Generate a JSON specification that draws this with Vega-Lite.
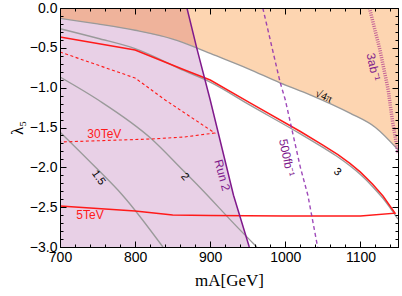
{
  "$schema": "https://vega.github.io/schema/vega-lite/v6.json",
  "width": 338,
  "height": 239,
  "autosize": "none",
  "padding": {"left": 60, "top": 8, "right": 4, "bottom": 49},
  "background": "white",
  "config": {
    "view": {"stroke": "black", "strokeWidth": 1},
    "axis": {"grid": false, "ticks": true, "domainColor": "black", "tickColor": "black", "tickWidth": 1, "labelColor": "black", "titleColor": "black", "labelFont": "Liberation Sans", "labelFontSize": 14, "titleFontWeight": "normal", "labelOverlap": false, "labelFlush": false}
  },
  "datasets": {
    "gray": [
      {"level": "s", "x": 700, "y": -0.13}, {"level": "s", "x": 750, "y": -0.2}, {"level": "s", "x": 800, "y": -0.28}, {"level": "s", "x": 850, "y": -0.39}, {"level": "s", "x": 882, "y": -0.5}, {"level": "s", "x": 900, "y": -0.57}, {"level": "s", "x": 950, "y": -0.76}, {"level": "s", "x": 993, "y": -0.94}, {"level": "s", "x": 1033, "y": -1.09}, {"level": "s", "x": 1086, "y": -1.32}, {"level": "s", "x": 1120, "y": -1.5}, {"level": "s", "x": 1150, "y": -1.78},
      {"level": "3", "x": 700, "y": -0.26}, {"level": "3", "x": 750, "y": -0.38}, {"level": "3", "x": 800, "y": -0.51}, {"level": "3", "x": 866, "y": -0.79}, {"level": "3", "x": 900, "y": -0.93}, {"level": "3", "x": 953, "y": -1.22}, {"level": "3", "x": 1020, "y": -1.58}, {"level": "3", "x": 1050, "y": -1.75}, {"level": "3", "x": 1070, "y": -1.87}, {"level": "3", "x": 1086, "y": -1.98}, {"level": "3", "x": 1100, "y": -2.09}, {"level": "3", "x": 1116, "y": -2.24}, {"level": "3", "x": 1130, "y": -2.39}, {"level": "3", "x": 1150, "y": -2.65},
      {"level": "2", "x": 700, "y": -0.866}, {"level": "2", "x": 751, "y": -1.155}, {"level": "2", "x": 822, "y": -1.644}, {"level": "2", "x": 864, "y": -2.04}, {"level": "2", "x": 886, "y": -2.25}, {"level": "2", "x": 937, "y": -2.76}, {"level": "2", "x": 962, "y": -3.0},
      {"level": "1.5", "x": 700, "y": -1.556}, {"level": "1.5", "x": 747, "y": -1.996}, {"level": "1.5", "x": 783, "y": -2.347}, {"level": "1.5", "x": 837, "y": -3.0}
    ],
    "orange": [
      {"x": 700, "y": -0.13}, {"x": 750, "y": -0.2}, {"x": 800, "y": -0.28}, {"x": 850, "y": -0.39}, {"x": 882, "y": -0.5}, {"x": 900, "y": -0.57}, {"x": 950, "y": -0.76}, {"x": 993, "y": -0.94}, {"x": 1033, "y": -1.09}, {"x": 1086, "y": -1.32}, {"x": 1120, "y": -1.5}, {"x": 1150, "y": -1.78}
    ],
    "purple": [
      {"x": 700, "y": 0}, {"x": 869, "y": 0}, {"x": 882, "y": -0.5}, {"x": 900, "y": -1.155}, {"x": 931, "y": -2.35}, {"x": 952, "y": -3.0}
    ],
    "salmon": [
      {"x": 700, "y": -0.13, "top": 0}, {"x": 750, "y": -0.2, "top": 0}, {"x": 800, "y": -0.28, "top": 0}, {"x": 850, "y": -0.39, "top": 0}, {"x": 869, "y": -0.45, "top": 0}, {"x": 882, "y": -0.5, "top": -0.5}
    ],
    "tev5": [
      {"i": 0, "x": 700, "y": -0.364}, {"i": 1, "x": 800, "y": -0.527}, {"i": 2, "x": 866, "y": -0.778}, {"i": 3, "x": 900, "y": -0.904}, {"i": 4, "x": 953, "y": -1.19}, {"i": 5, "x": 1020, "y": -1.55}, {"i": 6, "x": 1050, "y": -1.72}, {"i": 7, "x": 1070, "y": -1.84}, {"i": 8, "x": 1086, "y": -1.95}, {"i": 9, "x": 1100, "y": -2.06}, {"i": 10, "x": 1116, "y": -2.21}, {"i": 11, "x": 1130, "y": -2.36}, {"i": 12, "x": 1146, "y": -2.575}, {"i": 13, "x": 1100, "y": -2.61}, {"i": 14, "x": 1000, "y": -2.612}, {"i": 15, "x": 900, "y": -2.605}, {"i": 16, "x": 850, "y": -2.598}, {"i": 17, "x": 800, "y": -2.548}, {"i": 18, "x": 700, "y": -2.485}
    ],
    "tev30": [
      {"i": 0, "x": 700, "y": -0.552}, {"i": 1, "x": 800, "y": -0.879}, {"i": 2, "x": 840, "y": -1.155}, {"i": 3, "x": 864, "y": -1.305}, {"i": 4, "x": 906, "y": -1.569}, {"i": 5, "x": 866, "y": -1.619}, {"i": 6, "x": 822, "y": -1.644}, {"i": 7, "x": 700, "y": -1.682}
    ],
    "run2": [
      {"x": 869, "y": 0}, {"x": 882, "y": -0.5}, {"x": 900, "y": -1.155}, {"x": 931, "y": -2.35}, {"x": 952, "y": -3.0}
    ],
    "fb500": [
      {"x": 970, "y": 0}, {"x": 993, "y": -0.93}, {"x": 1000, "y": -1.155}, {"x": 1020, "y": -2.0}, {"x": 1030, "y": -2.35}, {"x": 1043, "y": -3.0}
    ],
    "ab3": [
      {"x": 1112, "y": 0}, {"x": 1126, "y": -0.527}, {"x": 1137, "y": -1.03}, {"x": 1143, "y": -1.44}, {"x": 1150, "y": -1.82}
    ]
  },
  "layer": [
    {
      "data": {"name": "orange"},
      "mark": {"type": "area", "color": "#FDD5B1", "opacity": 1, "interpolate": "monotone", "clip": true},
      "encoding": {
        "x": {"field": "x", "type": "quantitative", "scale": {"domain": [700, 1150], "nice": false, "zero": false},
          "axis": {"orient": "bottom", "zindex": 2, "values": [700, 720, 740, 760, 780, 800, 820, 840, 860, 880, 900, 920, 940, 960, 980, 1000, 1020, 1040, 1060, 1080, 1100, 1120, 1140],
            "format": "d", "labelExpr": "datum.value % 100 === 0 ? datum.label : ''",
            "tickSize": {"condition": {"test": "datum.value % 100 === 0", "value": -6}, "value": -3},
            "labelPadding": 9, "title": "mA[GeV]", "titleFont": "Liberation Serif", "titleFontSize": 17, "titlePadding": 5}},
        "y": {"field": "y", "type": "quantitative", "scale": {"domain": [-3, 0], "nice": false, "zero": false},
          "axis": {"orient": "left", "zindex": 2, "values": [0, -0.1, -0.2, -0.3, -0.4, -0.5, -0.6, -0.7, -0.8, -0.9, -1.0, -1.1, -1.2, -1.3, -1.4, -1.5, -1.6, -1.7, -1.8, -1.9, -2.0, -2.1, -2.2, -2.3, -2.4, -2.5, -2.6, -2.7, -2.8, -2.9, -3.0],
            "format": ".1f", "labelExpr": "abs(round(datum.value * 10)) % 5 === 0 ? datum.label : ''",
            "tickSize": {"condition": {"test": "abs(round(datum.value * 10)) % 5 === 0", "value": -6}, "value": -3},
            "labelPadding": 9, "title": "λ₅", "titleFont": "Liberation Serif", "titleFontSize": 17, "titlePadding": 3}},
        "y2": {"datum": 0}
      }
    },
    {
      "data": {"name": "purple"},
      "mark": {"type": "area", "color": "#E8D0E6", "opacity": 1, "clip": true},
      "encoding": {
        "x": {"field": "x", "type": "quantitative",
          "axis": {"orient": "top", "zindex": 2, "values": [700, 720, 740, 760, 780, 800, 820, 840, 860, 880, 900, 920, 940, 960, 980, 1000, 1020, 1040, 1060, 1080, 1100, 1120, 1140],
            "labels": false, "title": null,
            "tickSize": {"condition": {"test": "datum.value % 100 === 0", "value": -6}, "value": -3}}},
        "y": {"field": "y", "type": "quantitative",
          "axis": {"orient": "right", "zindex": 2, "values": [0, -0.1, -0.2, -0.3, -0.4, -0.5, -0.6, -0.7, -0.8, -0.9, -1.0, -1.1, -1.2, -1.3, -1.4, -1.5, -1.6, -1.7, -1.8, -1.9, -2.0, -2.1, -2.2, -2.3, -2.4, -2.5, -2.6, -2.7, -2.8, -2.9, -3.0],
            "labels": false, "title": null,
            "tickSize": {"condition": {"test": "abs(round(datum.value * 10)) % 5 === 0", "value": -6}, "value": -3}}},
        "y2": {"datum": -3}
      }
    },
    {
      "data": {"name": "salmon"},
      "mark": {"type": "area", "color": "#EFB39B", "opacity": 1, "clip": true},
      "encoding": {
        "x": {"field": "x", "type": "quantitative", "axis": null},
        "y": {"field": "y", "type": "quantitative", "axis": null},
        "y2": {"field": "top"}
      }
    },
    {
      "data": {"name": "gray"},
      "mark": {"type": "line", "color": "#9A9A9A", "strokeWidth": 1.4, "interpolate": "monotone", "clip": true},
      "encoding": {
        "x": {"field": "x", "type": "quantitative", "axis": null},
        "y": {"field": "y", "type": "quantitative", "axis": null},
        "detail": {"field": "level"}
      }
    },
    {
      "data": {"name": "tev30"},
      "mark": {"type": "line", "color": "#FF1A1A", "strokeWidth": 1.1, "strokeDash": [3, 2.5], "clip": true},
      "encoding": {
        "x": {"field": "x", "type": "quantitative", "axis": null},
        "y": {"field": "y", "type": "quantitative", "axis": null},
        "order": {"field": "i"}
      }
    },
    {
      "data": {"name": "tev5"},
      "mark": {"type": "line", "color": "#FF1A1A", "strokeWidth": 1.5, "clip": true},
      "encoding": {
        "x": {"field": "x", "type": "quantitative", "axis": null},
        "y": {"field": "y", "type": "quantitative", "axis": null},
        "order": {"field": "i"}
      }
    },
    {
      "data": {"name": "run2"},
      "mark": {"type": "line", "color": "#80198C", "strokeWidth": 1.5, "clip": true},
      "encoding": {
        "x": {"field": "x", "type": "quantitative", "axis": null},
        "y": {"field": "y", "type": "quantitative", "axis": null}
      }
    },
    {
      "data": {"name": "fb500"},
      "mark": {"type": "line", "color": "#8E2AAE", "strokeWidth": 1.4, "strokeDash": [4, 3], "opacity": 0.85, "clip": true},
      "encoding": {
        "x": {"field": "x", "type": "quantitative", "axis": null},
        "y": {"field": "y", "type": "quantitative", "axis": null}
      }
    },
    {
      "data": {"name": "ab3"},
      "mark": {"type": "line", "color": "#B4448E", "strokeWidth": 3.5, "strokeDash": [1, 1.3], "opacity": 0.8, "clip": true},
      "encoding": {
        "x": {"field": "x", "type": "quantitative", "axis": null},
        "y": {"field": "y", "type": "quantitative", "axis": null}
      }
    },
    {
      "data": {"values": [{"x": 759, "y": -1.58, "label": "30TeV"}]},
      "mark": {"type": "text", "color": "#FF1A1A", "font": "Liberation Sans", "fontSize": 12},
      "encoding": {"x": {"field": "x", "type": "quantitative", "axis": null}, "y": {"field": "y", "type": "quantitative", "axis": null}, "text": {"field": "label"}}
    },
    {
      "data": {"values": [{"x": 740, "y": -2.6, "label": "5TeV"}]},
      "mark": {"type": "text", "color": "#FF1A1A", "font": "Liberation Sans", "fontSize": 12},
      "encoding": {"x": {"field": "x", "type": "quantitative", "axis": null}, "y": {"field": "y", "type": "quantitative", "axis": null}, "text": {"field": "label"}}
    },
    {
      "data": {"values": [{"x": 751, "y": -2.13, "label": "1.5"}]},
      "mark": {"type": "text", "color": "black", "font": "Liberation Sans", "fontSize": 11, "angle": 55},
      "encoding": {"x": {"field": "x", "type": "quantitative", "axis": null}, "y": {"field": "y", "type": "quantitative", "axis": null}, "text": {"field": "label"}}
    },
    {
      "data": {"values": [{"x": 866, "y": -2.12, "label": "2"}]},
      "mark": {"type": "text", "color": "black", "font": "Liberation Sans", "fontSize": 11, "angle": 50},
      "encoding": {"x": {"field": "x", "type": "quantitative", "axis": null}, "y": {"field": "y", "type": "quantitative", "axis": null}, "text": {"field": "label"}}
    },
    {
      "data": {"values": [{"x": 1069, "y": -2.06, "label": "3"}]},
      "mark": {"type": "text", "color": "black", "font": "Liberation Sans", "fontSize": 11, "angle": 40},
      "encoding": {"x": {"field": "x", "type": "quantitative", "axis": null}, "y": {"field": "y", "type": "quantitative", "axis": null}, "text": {"field": "label"}}
    },
    {
      "data": {"values": [{"x": 1051, "y": -1.11, "label": "√4π"}]},
      "mark": {"type": "text", "color": "black", "font": "Liberation Serif", "fontSize": 11, "angle": 24},
      "encoding": {"x": {"field": "x", "type": "quantitative", "axis": null}, "y": {"field": "y", "type": "quantitative", "axis": null}, "text": {"field": "label"}}
    },
    {
      "data": {"values": [{"x": 916, "y": -2.1, "label": "Run 2"}]},
      "mark": {"type": "text", "color": "#80198C", "font": "Liberation Sans", "fontSize": 12, "angle": 75},
      "encoding": {"x": {"field": "x", "type": "quantitative", "axis": null}, "y": {"field": "y", "type": "quantitative", "axis": null}, "text": {"field": "label"}}
    },
    {
      "data": {"values": [{"x": 1002, "y": -1.88, "label": "500fb⁻¹"}]},
      "mark": {"type": "text", "color": "#80198C", "font": "Liberation Sans", "fontSize": 12, "angle": 78},
      "encoding": {"x": {"field": "x", "type": "quantitative", "axis": null}, "y": {"field": "y", "type": "quantitative", "axis": null}, "text": {"field": "label"}}
    },
    {
      "data": {"values": [{"x": 1117, "y": -0.74, "label": "3ab⁻¹"}]},
      "mark": {"type": "text", "color": "#80198C", "font": "Liberation Sans", "fontSize": 12, "angle": 78},
      "encoding": {"x": {"field": "x", "type": "quantitative", "axis": null}, "y": {"field": "y", "type": "quantitative", "axis": null}, "text": {"field": "label"}}
    }
  ],
  "resolve": {"axis": {"x": "independent", "y": "independent"}}
}
